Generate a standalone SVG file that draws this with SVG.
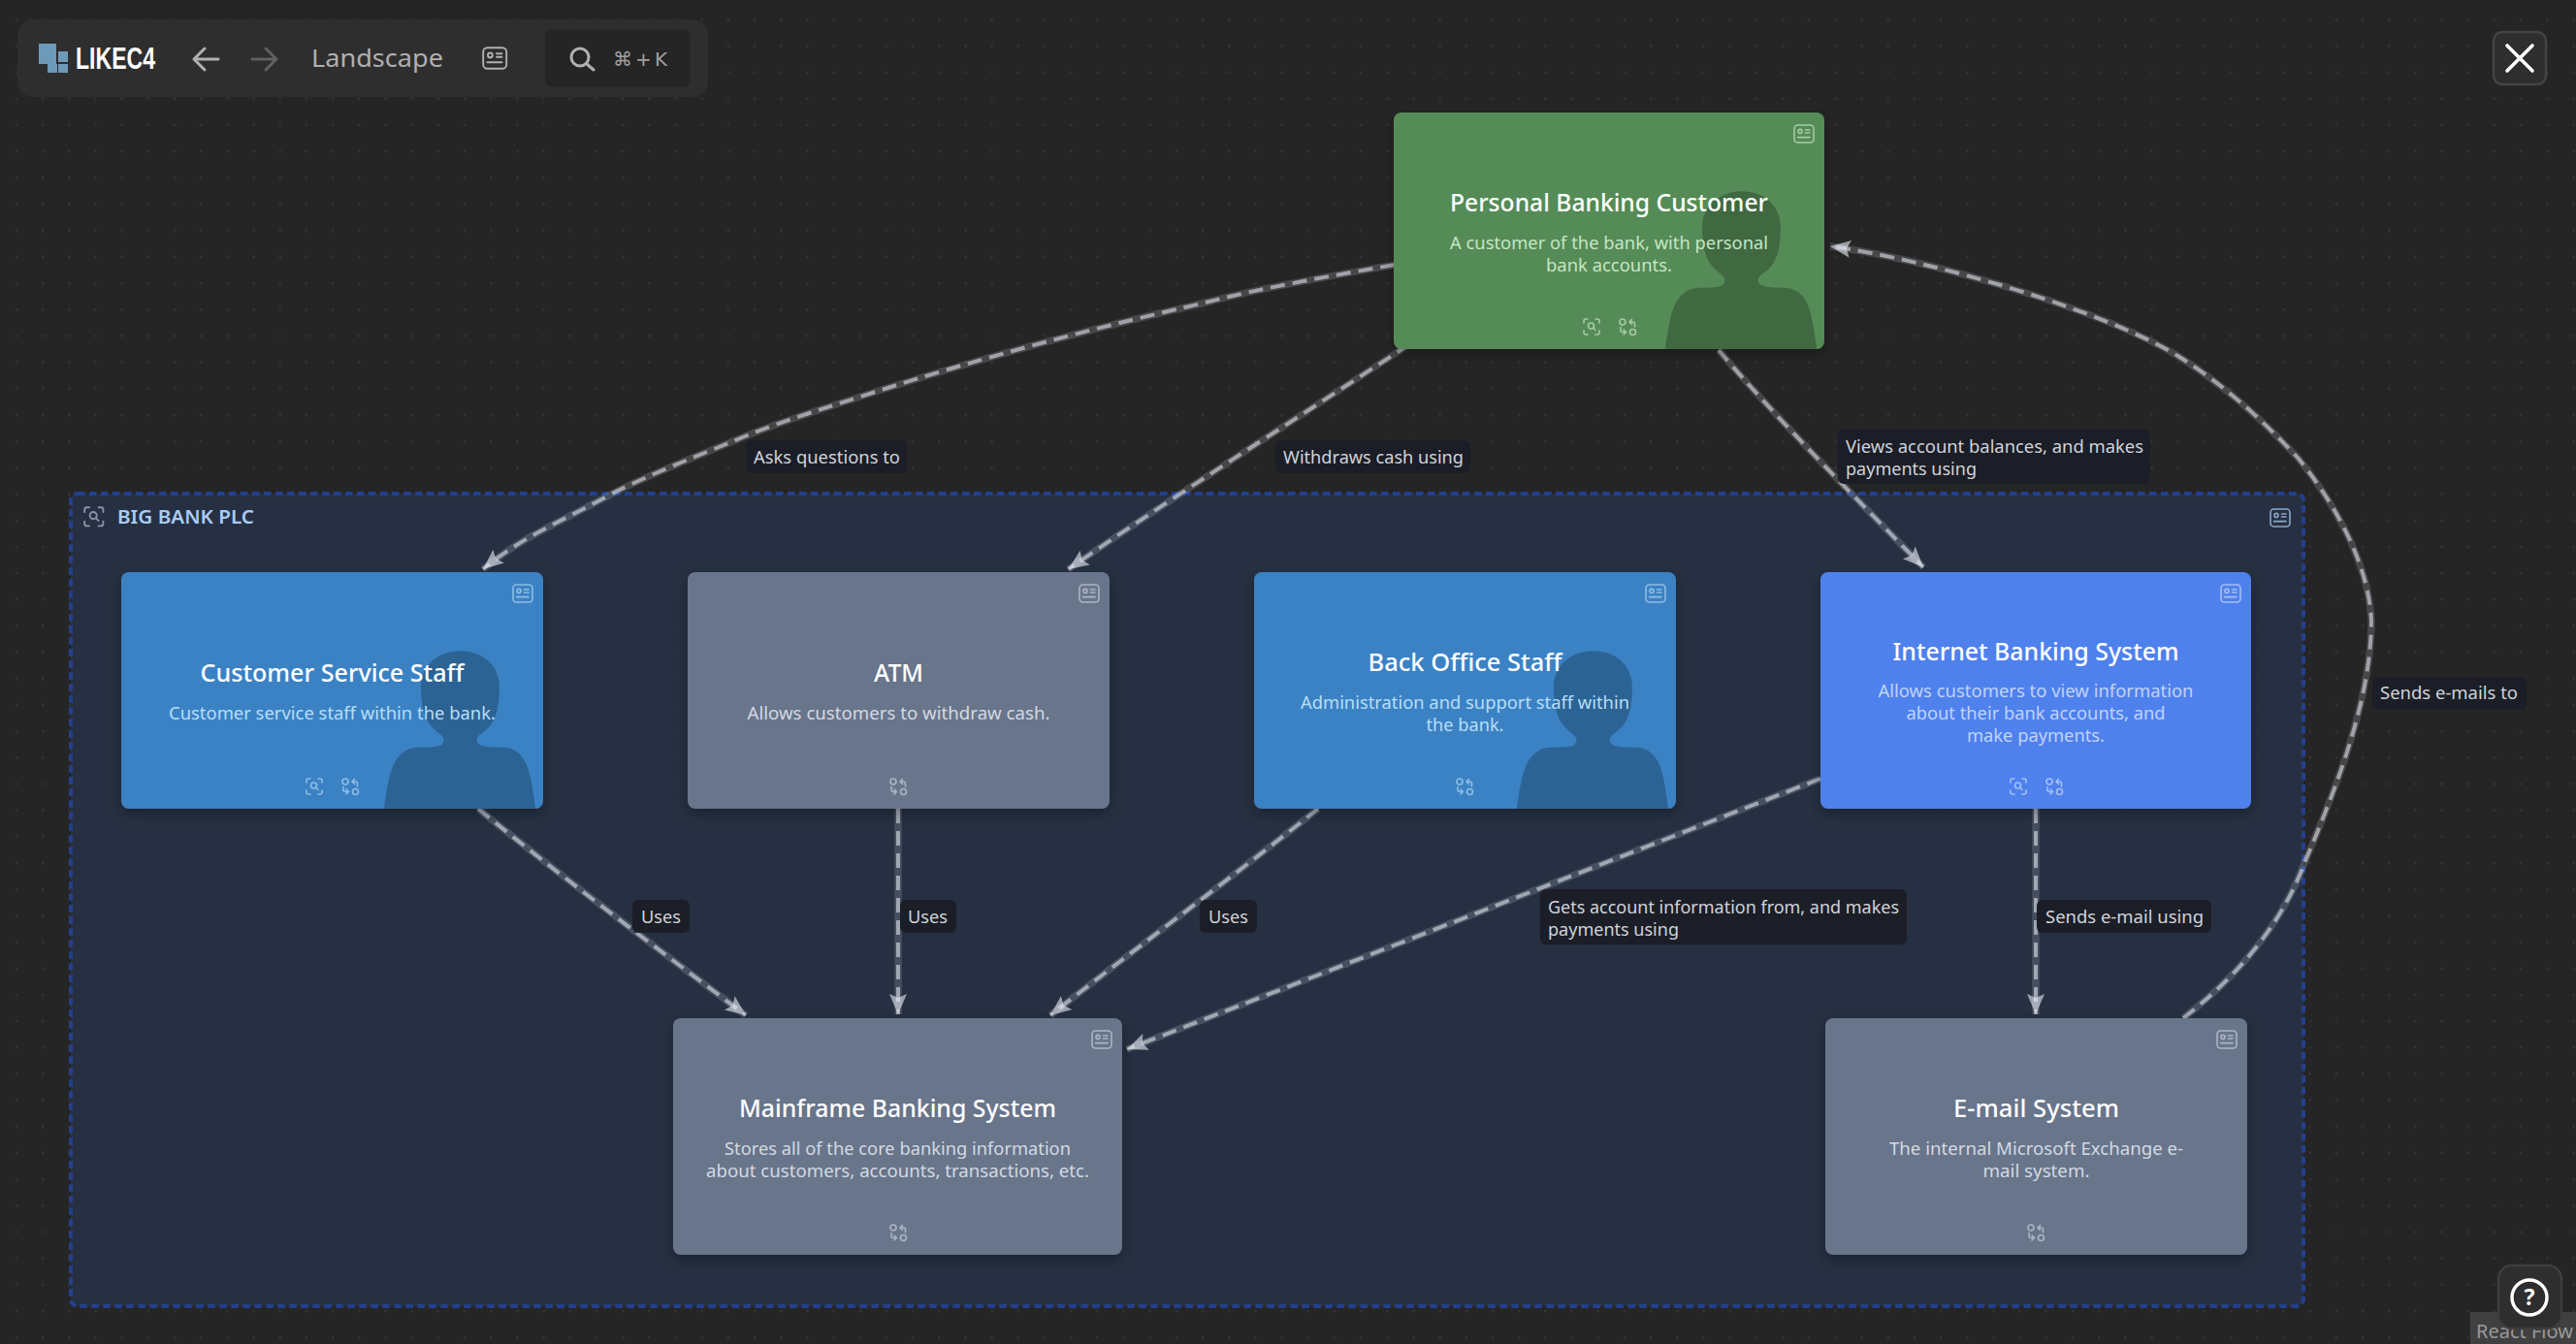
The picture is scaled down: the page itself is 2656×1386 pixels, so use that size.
<svg xmlns="http://www.w3.org/2000/svg" width="2656" height="1386" viewBox="0 0 2656 1386">
<style>
text{font-family:"Noto Sans","Liberation Sans",sans-serif}
.t{font-size:25px;font-weight:500;fill:#fff;text-anchor:middle}
.d{font-size:18.5px;text-anchor:middle}
.l{font-size:18.3px;fill:#d0d3d9}
.lb{fill:#1b1e27}
.w{fill:none;stroke:#e8ecf5;stroke-opacity:.17;stroke-width:7.5}
.s{fill:none;stroke:#e8ecf5;stroke-opacity:.56;stroke-width:4;stroke-dasharray:15 8;marker-end:url(#ah)}
.n{filter:url(#sh)}
.ic{fill:none;stroke-width:1.6;stroke-linecap:round;stroke-linejoin:round}
.gn{fill:#558b57}.bl{fill:#3b82c4}.gr{fill:#67748b}.ib{fill:#4f81ed}
.dgn{fill:#c6e6c4}.dbl{fill:#b7def7}.dgr{fill:#d4d9e1}.dib{fill:#c0d3fa}
.sgn{stroke:#a6cba5}.sbl{stroke:#8fbde5}.sgr{stroke:#adb5c3}.sib{stroke:#a4bff5}
.ui{fill:none;stroke-linecap:round;stroke-linejoin:round}
</style>
<defs>
<pattern id="dots" x="17" y="20.3" width="27.18" height="27.18" patternUnits="userSpaceOnUse" patternTransform="translate(-1.3 -1.3)"><circle cx="1.3" cy="1.3" r="1.3" fill="#353535"/></pattern>
<filter id="sh" x="-10%" y="-10%" width="120%" height="125%"><feDropShadow dx="0" dy="5" stdDeviation="7" flood-color="#000" flood-opacity=".3"/></filter>
<marker id="ah" markerUnits="userSpaceOnUse" markerWidth="26" markerHeight="22" refX="21" refY="9" orient="auto"><path d="M0 0L21 9L0 18L4 9Z" fill="#e8ecf5" fill-opacity=".6"/></marker>
<symbol id="person" viewBox="0 0 444 244" width="444" height="244" overflow="hidden"><g transform="scale(.3333) translate(-51 -48)"><path d="M891 781C905 680 915 590 1000 590C1060 590 1078 585 1075 565C1073 548 1050 545 1030 515C1010 490 1005 440 1005 405C1005 335 1060 292 1127 292C1195 292 1248 335 1248 405C1248 440 1243 490 1225 515C1205 545 1180 548 1178 565C1178 585 1195 590 1255 590C1340 590 1345 680 1360 781Z" fill="#000" fill-opacity=".24"/></g></symbol>
<g id="card"><rect x="1" y="1" width="20" height="18" rx="3.5"/><circle cx="7" cy="7.4" r="2"/><path d="M12.5 6H17M12.5 9H17M4.5 13.6H17"/></g>
<g id="scan"><path d="M1 5V3A2 2 0 0 1 3 1H5M13 1H15A2 2 0 0 1 17 3V5M17 13V15A2 2 0 0 1 15 17H13M5 17H3A2 2 0 0 1 1 15V13"/><circle cx="8.5" cy="8" r="3"/><path d="M10.8 10.3L13 12.5"/></g>
<g id="swap"><circle cx="4" cy="4" r="3"/><circle cx="14.5" cy="14.5" r="3"/><path d="M11 4H14.5A2 2 0 0 1 16.5 6V9M11 4L13.5 1.5M11 4L13.5 6.5M7.5 14.5H4A2 2 0 0 1 2 12.5V9.5M7.5 14.5L5 12M7.5 14.5L5 17"/></g>
</defs>
<rect width="2656" height="1386" fill="#252525"/>
<rect width="2656" height="1386" fill="url(#dots)"/>

<g id="big-bank-plc">
<rect x="73" y="509" width="2302" height="838" rx="7" fill="#273246" fill-opacity=".9"/>
<rect x="73" y="509" width="2302" height="838" rx="7" fill="none" stroke="#23408e" stroke-width="4" stroke-dasharray="7.5 4.5"/>
<use href="#scan" transform="translate(86 522) scale(1.2)" class="ic" stroke="#8792a5"/>
<text x="121" y="540" font-size="20" font-weight="600" fill="#a8ccf7" textLength="141" lengthAdjust="spacingAndGlyphs">BIG BANK PLC</text>
<use href="#card" x="2340" y="524" class="ic" stroke="#8da6c8"/>
</g>

<g id="connectors">
<g class="w">
<path d="M1438 273C1370 285 1300 297 1239 313C1120 340 1010 370 909 402C860 418 812 432 768 450C720 470 675 487 633 508C585 535 540 552 498 587"/>
<path d="M1453 355C1340 430 1220 505 1101.5 587"/>
<path d="M1772 361C1830 430 1920 520 1983 585"/>
<path d="M2251 1050C2300 1012 2350 960 2376 890C2410 810 2445 720 2445 640C2442 575 2400 510 2370 473C2330 430 2290 395 2247 368C2170 320 1990 268 1887 254"/>
<path d="M493 834C580 905 680 980 769 1047"/>
<path d="M926 834V1046"/>
<path d="M1359 834C1270 905 1175 975 1083 1047"/>
<path d="M1877 803C1700 872 1400 990 1162 1082"/>
<path d="M2099 834V1046"/>
</g>
<path class="s" d="M1438 273C1370 285 1300 297 1239 313C1120 340 1010 370 909 402C860 418 812 432 768 450C720 470 675 487 633 508C585 535 540 552 498 587"/>
<path class="s" d="M1453 355C1340 430 1220 505 1101.5 587"/>
<path class="s" d="M1772 361C1830 430 1920 520 1983 585"/>
<path class="s" d="M2251 1050C2300 1012 2350 960 2376 890C2410 810 2445 720 2445 640C2442 575 2400 510 2370 473C2330 430 2290 395 2247 368C2170 320 1990 268 1887 254"/>
<path class="s" d="M493 834C580 905 680 980 769 1047"/>
<path class="s" d="M926 834V1046"/>
<path class="s" d="M1359 834C1270 905 1175 975 1083 1047"/>
<path class="s" d="M1877 803C1700 872 1400 990 1162 1082"/>
<path class="s" d="M2099 834V1046"/>

<g id="edge-labels">
<rect class="lb" x="769" y="454" width="166" height="34" rx="6"/><text class="l" x="777" y="478" textLength="151" lengthAdjust="spacingAndGlyphs">Asks questions to</text>
<rect class="lb" x="1315" y="454" width="201" height="34" rx="6"/><text class="l" x="1323" y="478" textLength="186" lengthAdjust="spacingAndGlyphs">Withdraws cash using</text>
<rect class="lb" x="1895" y="443" width="322" height="56" rx="6"/><text class="l" x="1903" y="466.5" textLength="307" lengthAdjust="spacingAndGlyphs">Views account balances, and makes</text><text class="l" x="1903" y="490" textLength="135" lengthAdjust="spacingAndGlyphs">payments using</text>
<rect class="lb" x="652" y="928" width="59" height="34" rx="6"/><text class="l" x="661" y="952" textLength="41" lengthAdjust="spacingAndGlyphs">Uses</text>
<rect class="lb" x="928" y="928" width="58" height="34" rx="6"/><text class="l" x="936" y="952" textLength="41" lengthAdjust="spacingAndGlyphs">Uses</text>
<rect class="lb" x="1237" y="928" width="59" height="34" rx="6"/><text class="l" x="1246" y="952" textLength="41" lengthAdjust="spacingAndGlyphs">Uses</text>
<rect class="lb" x="1588" y="917" width="378" height="57" rx="6"/><text class="l" x="1596" y="941.5" textLength="362" lengthAdjust="spacingAndGlyphs">Gets account information from, and makes</text><text class="l" x="1596" y="964.5" textLength="135" lengthAdjust="spacingAndGlyphs">payments using</text>
<rect class="lb" x="2100" y="928" width="180" height="34" rx="6"/><text class="l" x="2109" y="952" textLength="163" lengthAdjust="spacingAndGlyphs">Sends e-mail using</text>
<rect class="lb" x="2446" y="698" width="159" height="34" rx="6"/><text class="l" x="2454" y="721" textLength="142" lengthAdjust="spacingAndGlyphs">Sends e-mails to</text>
</g>
</g>

<g id="personal-banking-customer">
<rect class="n gn" x="1437" y="116" width="444" height="244" rx="8"/>
<use href="#person" x="1437" y="116"/>
<text class="t" x="1659" y="218" textLength="328" lengthAdjust="spacingAndGlyphs">Personal Banking Customer</text>
<text class="d dgn" x="1659" y="257" textLength="328" lengthAdjust="spacingAndGlyphs">A customer of the bank, with personal</text>
<text class="d dgn" x="1659" y="280" textLength="130" lengthAdjust="spacingAndGlyphs">bank accounts.</text>
<use href="#card" x="1849" y="128" class="ic sgn"/>
<use href="#scan" x="1632" y="328" class="ic sgn"/>
<use href="#swap" x="1669" y="328" class="ic sgn"/>
</g>

<g id="customer-service-staff">
<rect class="n bl" x="125" y="590" width="435" height="244" rx="8"/>
<use href="#person" x="116" y="590"/>
<text class="t" x="342.5" y="703" textLength="272" lengthAdjust="spacingAndGlyphs">Customer Service Staff</text>
<text class="d dbl" x="342.5" y="742" textLength="337" lengthAdjust="spacingAndGlyphs">Customer service staff within the bank.</text>
<use href="#card" x="528" y="602" class="ic sbl"/>
<use href="#scan" x="315" y="802" class="ic sbl"/>
<use href="#swap" x="352" y="802" class="ic sbl"/>
</g>

<g id="atm">
<rect class="n gr" x="709" y="590" width="435" height="244" rx="8"/>
<text class="t" x="926.5" y="703" textLength="51" lengthAdjust="spacingAndGlyphs">ATM</text>
<text class="d dgr" x="926.5" y="742" textLength="312" lengthAdjust="spacingAndGlyphs">Allows customers to withdraw cash.</text>
<use href="#card" x="1112" y="602" class="ic sgr"/>
<use href="#swap" x="917" y="802" class="ic sgr"/>
</g>

<g id="back-office-staff">
<rect class="n bl" x="1293" y="590" width="435" height="244" rx="8"/>
<use href="#person" x="1284" y="590"/>
<text class="t" x="1510.5" y="692" textLength="200" lengthAdjust="spacingAndGlyphs">Back Office Staff</text>
<text class="d dbl" x="1510.5" y="731" textLength="339" lengthAdjust="spacingAndGlyphs">Administration and support staff within</text>
<text class="d dbl" x="1510.5" y="754" textLength="80" lengthAdjust="spacingAndGlyphs">the bank.</text>
<use href="#card" x="1696" y="602" class="ic sbl"/>
<use href="#swap" x="1501" y="802" class="ic sbl"/>
</g>

<g id="internet-banking-system">
<rect class="n ib" x="1877" y="590" width="444" height="244" rx="8"/>
<text class="t" x="2099" y="681" textLength="295" lengthAdjust="spacingAndGlyphs">Internet Banking System</text>
<text class="d dib" x="2099" y="719" textLength="325" lengthAdjust="spacingAndGlyphs">Allows customers to view information</text>
<text class="d dib" x="2099" y="742" textLength="267" lengthAdjust="spacingAndGlyphs">about their bank accounts, and</text>
<text class="d dib" x="2099" y="765" textLength="142" lengthAdjust="spacingAndGlyphs">make payments.</text>
<use href="#card" x="2289" y="602" class="ic sib"/>
<use href="#scan" x="2072" y="802" class="ic sib"/>
<use href="#swap" x="2109" y="802" class="ic sib"/>
</g>

<g id="mainframe-banking-system">
<rect class="n gr" x="694" y="1050" width="463" height="244" rx="8"/>
<text class="t" x="925.5" y="1152" textLength="327" lengthAdjust="spacingAndGlyphs">Mainframe Banking System</text>
<text class="d dgr" x="925.5" y="1191" textLength="357" lengthAdjust="spacingAndGlyphs">Stores all of the core banking information</text>
<text class="d dgr" x="925.5" y="1214" textLength="395" lengthAdjust="spacingAndGlyphs">about customers, accounts, transactions, etc.</text>
<use href="#card" x="1125" y="1062" class="ic sgr"/>
<use href="#swap" x="917" y="1262" class="ic sgr"/>
</g>

<g id="email-system">
<rect class="n gr" x="1882" y="1050" width="435" height="244" rx="8"/>
<text class="t" x="2099.5" y="1152" textLength="171" lengthAdjust="spacingAndGlyphs">E-mail System</text>
<text class="d dgr" x="2099.5" y="1191" textLength="303" lengthAdjust="spacingAndGlyphs">The internal Microsoft Exchange e-</text>
<text class="d dgr" x="2099.5" y="1214" textLength="110" lengthAdjust="spacingAndGlyphs">mail system.</text>
<use href="#card" x="2285" y="1062" class="ic sgr"/>
<use href="#swap" x="2090" y="1262" class="ic sgr"/>
</g>

<g id="toolbar">
<rect x="18" y="20" width="712" height="80" rx="16" fill="#2e2e2e"/>
<rect x="40" y="45" width="18" height="21" fill="#6d9ab8"/><rect x="60" y="53" width="10" height="11" fill="#6d9ab8"/><rect x="49" y="66" width="10" height="9" fill="#6d9ab8"/><rect x="60" y="66" width="10" height="9" fill="#6d9ab8"/>
<text x="78" y="71" font-size="31" font-weight="700" fill="#fff" style="font-family:'Liberation Sans Narrow','Liberation Sans',sans-serif" textLength="82" lengthAdjust="spacingAndGlyphs">LIKEC4</text>
<path class="ui" d="M200 61H225M200 61L211 50M200 61L211 72" stroke="#b0b0b0" stroke-width="3"/>
<path class="ui" d="M260 61H285M285 61L274 50M285 61L274 72" stroke="#606060" stroke-width="3"/>
<text x="321" y="68.5" font-size="26" fill="#b0b0b0" textLength="136" lengthAdjust="spacingAndGlyphs">Landscape</text>
<use href="#card" transform="translate(497 48) scale(1.2)" class="ic" stroke="#b0b0b0"/>
<rect x="562" y="30" width="150" height="60" rx="8" fill="#252525"/>
<circle cx="598" cy="59" r="9" class="ui" stroke="#b0b0b0" stroke-width="3"/><path class="ui" d="M605 66L612 72" stroke="#b0b0b0" stroke-width="3"/>
<text x="632" y="68" font-size="20" fill="#a0a0a0" textLength="56" style="font-family:'DejaVu Sans','Noto Sans',sans-serif">⌘ + K</text>
</g>

<g id="close">
<rect x="2571" y="33" width="54" height="54" rx="9" fill="#2e2e2e" stroke="#444" stroke-width="2.5"/>
<path class="ui" d="M2585 47L2611 73M2611 47L2585 73" stroke="#fff" stroke-width="3.6"/>
</g>

<g id="attribution">
<rect x="2547" y="1353" width="109" height="33" fill="#404040"/>
<text x="2553" y="1380" font-size="20" fill="#999">React Flow</text>
</g>
<g id="help">
<rect x="2576" y="1305" width="65" height="65" rx="14" fill="#2e2e2e" stroke="#3e3e3e" stroke-width="2.5"/>
<circle cx="2608" cy="1338" r="18" class="ui" stroke="#fff" stroke-width="3.4"/>
<text x="2608" y="1346" font-size="23" font-weight="700" fill="#fff" text-anchor="middle">?</text>
</g>
</svg>
